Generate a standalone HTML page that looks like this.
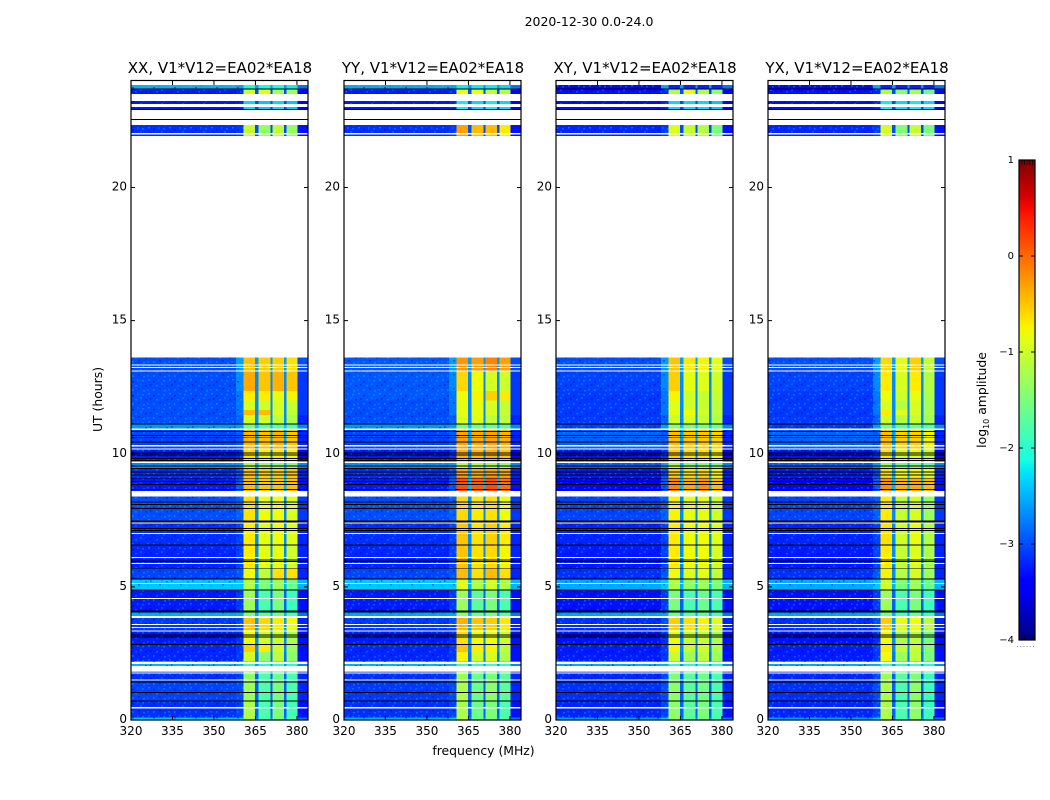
<!DOCTYPE html>
<html lang="en">
<head>
<meta charset="utf-8">
<title>2020-12-30 0.0-24.0</title>
<style>
html,body{margin:0;padding:0;background:#fff;width:1050px;height:800px;overflow:hidden}
svg{display:block}
text{font-family:"DejaVu Sans","Liberation Sans",sans-serif;fill:#000}
</style>
</head>
<body>
<svg id="figure" xmlns="http://www.w3.org/2000/svg" width="1050" height="800" viewBox="0 0 1050 800">
  <defs>
    <pattern id="grain" width="21" height="14" patternUnits="userSpaceOnUse">
      <rect x="1" y="1" width="2" height="1.5" fill="#00e0ff" opacity=".4"/>
      <rect x="6" y="3" width="2" height="1.5" fill="#000080" opacity=".45"/>
      <rect x="11" y="1" width="1.5" height="2" fill="#0090ff" opacity=".5"/>
      <rect x="16" y="2" width="2" height="1.5" fill="#00c0ff" opacity=".4"/>
      <rect x="3" y="6" width="1.5" height="2" fill="#000080" opacity=".4"/>
      <rect x="9" y="7" width="2" height="1.5" fill="#00d0ff" opacity=".35"/>
      <rect x="14" y="5" width="2" height="2" fill="#0090ff" opacity=".45"/>
      <rect x="19" y="7" width="2" height="1.5" fill="#000080" opacity=".4"/>
      <rect x="0" y="11" width="2" height="1.5" fill="#0098ff" opacity=".45"/>
      <rect x="6" y="11" width="1.5" height="2" fill="#00c8ff" opacity=".4"/>
      <rect x="12" y="10" width="2" height="1.5" fill="#000080" opacity=".4"/>
      <rect x="17" y="12" width="2" height="1.5" fill="#00d8ff" opacity=".35"/>
    </pattern>
    <linearGradient id="jet-gradient" x1="0" y1="1" x2="0" y2="0"></linearGradient>
  </defs>
  <text x="589" y="26" font-size="12.5" text-anchor="middle">2020-12-30 0.0-24.0</text>
  <text x="483.5" y="755" font-size="12.4" text-anchor="middle">frequency (MHz)</text>
  <text transform="translate(102,399.5) rotate(-90)" font-size="12.4" text-anchor="middle">UT (hours)</text>
  <g id="panels"></g>
  <g id="colorbar"></g>
  <text transform="translate(986,400) rotate(-90)" font-size="12.4" text-anchor="middle">log<tspan font-size="8" dy="3">10</tspan><tspan dy="-3"> amplitude</tspan></text>
</svg>
<script>
// ---- chart data ----
const panelTitles = ["XX, V1*V12=EA02*EA18", "YY, V1*V12=EA02*EA18", "XY, V1*V12=EA02*EA18", "YX, V1*V12=EA02*EA18"];
const xTickLabels = [320, 335, 350, 365, 380];
const yTickLabels = [0, 5, 10, 15, 20];
const colorbarTicks = [-4, -3, -2, -1, 0, 1];

// channel groups in MHz
const backgroundFreq = [320, 358];
const nearFreq = [358, 360.7];
const bandFreqs = [[360.7, 364.9], [366.1, 370.4], [371.1, 375.3], [376.2, 380.2]];
const edgeFreq = [380.2, 384];

// time blocks in UT hours
const blockStart = [0, .09, .71, 1.43, 1.8, 2.22, 2.55, 2.82, 3.38, 3.9, 4.09, 4.88, 5.29, 5.7, 6.57, 7.44, 8.61, 9.1, 9.43, 9.68, 10.18, 10.92, 11.12, 11.45, 11.65, 12.0, 12.35, 13.11, 21.94, 22.93, 23.51, 23.72];
const blockEnd = [.09, .71, 1.43, 1.8, 2.22, 2.55, 2.82, 3.38, 3.9, 4.09, 4.88, 5.29, 5.7, 6.57, 7.44, 8.39, 9.1, 9.43, 9.68, 10.18, 10.92, 11.12, 11.45, 11.65, 12.0, 12.35, 13.11, 13.62, 22.34, 23.24, 23.68, 23.85];

// log10 amplitude shared by all products per block
const nearLevels = [-2.4, -3.05, -3.0, -3.05, -2.5, -3.1, -3.1, -3.15, -3.0, -2.55, -3.1, -2.4, -2.95, -3.05, -3.05, -2.9, -2.95, -3.0, -2.6, -3.15, -2.95, -2.6, -2.9, -2.8, -2.8, -2.8, -2.7, -2.6, -3.1, -3.2, -3.2, -2.55];
const gapLevels = [-2.7, -2.9, -2.9, -2.9, -2.6, -2.8, -2.7, -2.7, -2.6, -2.5, -2.9, -2.5, -2.7, -2.7, -2.7, -2.7, -2.5, -2.5, -2.5, -2.7, -2.6, -2.4, -2.7, -2.7, -2.7, -2.7, -2.7, -2.6, -3.0, -3.0, -3.0, -2.6];
const edgeLevels = [-2.8, -3.3, -3.2, -3.2, -2.7, -3.3, -3.3, -3.3, -3.2, -2.8, -3.3, -2.5, -3.2, -3.2, -3.2, -3.1, -3.3, -3.2, -2.7, -3.35, -3.2, -2.7, -3.2, -3.1, -3.1, -3.1, -3.1, -3.0, -3.3, -3.35, -3.35, -2.8];

// per-product background level per block
const backgroundXX = [-2.4, -3.15, -3.05, -3.15, -2.5, -3.2, -3.2, -3.25, -3.1, -2.55, -3.25, -2.4, -3.05, -3.2, -3.15, -3.0, -3.25, -3.15, -2.7, -3.25, -3.05, -2.65, -3.0, -3.0, -3.0, -3.0, -3.0, -3.0, -3.15, -3.25, -3.25, -2.5];
const backgroundYY = [-2.5, -3.15, -3.1, -3.15, -2.5, -3.2, -3.2, -3.25, -3.1, -2.6, -3.25, -2.4, -3.05, -3.2, -3.15, -3.0, -3.25, -3.15, -2.7, -3.25, -3.05, -2.65, -3.0, -3.0, -3.0, -2.95, -2.95, -2.95, -3.15, -3.25, -3.25, -2.55];
const backgroundXY = [-2.6, -3.2, -3.15, -3.2, -2.55, -3.25, -3.25, -3.3, -3.15, -2.6, -3.3, -2.55, -3.15, -3.25, -3.2, -3.05, -3.35, -3.25, -2.95, -3.3, -2.9, -3.05, -3.1, -3.1, -3.1, -3.1, -3.05, -3.0, -3.2, -3.3, -3.3, -3.35];
const backgroundYX = [-2.6, -3.2, -3.15, -3.2, -2.55, -3.25, -3.25, -3.3, -3.15, -2.6, -3.3, -2.55, -3.15, -3.25, -3.2, -3.05, -3.35, -3.25, -2.95, -3.3, -2.9, -3.1, -3.1, -3.1, -3.1, -3.1, -3.05, -3.0, -3.2, -3.3, -3.3, -3.35];

// per-product level for each of the four bands per block
const bandsXX = [[-1.3,-1.8,-1.5,-1.8],[-1.2,-1.8,-1.5,-1.85],[-1.3,-1.8,-1.5,-1.8],[-1.4,-1.8,-1.6,-1.8],[-2.0,-2.1,-2.0,-2.1],[-1.0,-1.4,-1.1,-1.4],[-.55,-.7,-1.0,-1.3],[-.8,-1.0,-1.0,-1.2],[-.5,-.6,-.7,-.8],[-1.5,-1.7,-1.6,-1.8],[-1.3,-1.8,-1.5,-1.9],[-1.2,-1.5,-1.3,-1.6],[-.8,-1.1,-.65,-.65],[-.7,-.85,-.85,-1.0],[-.7,-.85,-.8,-.9],[-.65,-.8,-.8,-.9],[-.45,-.5,-.5,-.45],[-.5,-.55,-.55,-.5],[-1.2,-1.3,-1.4,-1.4],[-.65,-.75,-.7,-.75],[-.4,-.45,-.4,-.5],[-1.6,-1.7,-1.7,-1.8],[-.95,-1.0,-1.1,-1.2],[-.45,-.45,-.95,-1.1],[-.95,-1.0,-.95,-1.05],[-.7,-.7,-.85,-.75],[-.35,-.5,-.4,-.5],[-.5,-.55,-.55,-.65],[-1.05,-1.35,-1.1,-1.35],[-2.3,-2.4,-2.3,-2.4],[-1.0,-.85,-1.25,-1.3],[-2.1,-2.1,-2.1,-2.2]];
const bandsYY = [[-1.2,-1.6,-1.5,-1.7],[-1.2,-1.6,-1.5,-1.8],[-1.2,-1.6,-1.4,-1.7],[-1.3,-1.6,-1.5,-1.7],[-1.9,-2.0,-1.9,-2.0],[-.75,-1.0,-.95,-1.2],[-.5,-.7,-.75,-1.1],[-.65,-.8,-.8,-1.0],[-.4,-.5,-.55,-.7],[-1.4,-1.6,-1.5,-1.7],[-1.3,-1.7,-1.5,-1.8],[-.9,-1.2,-1.0,-1.2],[-.45,-.65,-.45,-.65],[-.5,-.65,-.6,-.75],[-.5,-.65,-.55,-.7],[-.6,-.7,-.65,-.8],[.15,.05,.15,-.05],[-.3,-.35,-.3,-.35],[-1.1,-1.2,-1.2,-1.3],[-.4,-.45,-.4,-.5],[-.3,-.35,-.3,-.4],[-1.5,-1.6,-1.6,-1.7],[-.9,-.9,-1.1,-1.1],[-.85,-.85,-.95,-1.05],[-.85,-.85,-.95,-1.05],[-.8,-.75,-.55,-.7],[-.6,-.8,-.95,-1.0],[-.25,-.3,-.15,-.3],[-.3,-.45,-.45,-.7],[-2.2,-2.3,-2.2,-2.3],[-.8,-.8,-1.1,-1.1],[-2.2,-2.2,-2.2,-2.3]];
const bandsXY = [[-1.4,-1.7,-1.5,-1.8],[-1.4,-1.7,-1.5,-1.8],[-1.4,-1.7,-1.55,-1.8],[-1.5,-1.7,-1.6,-1.8],[-2.0,-2.1,-2.0,-2.1],[-1.05,-1.3,-1.1,-1.3],[-.75,-1.05,-1.0,-1.2],[-.85,-1.05,-1.05,-1.2],[-.55,-.65,-.75,-.9],[-1.6,-1.7,-1.7,-1.8],[-1.5,-1.8,-1.6,-1.8],[-1.2,-1.4,-1.3,-1.5],[-.8,-.9,-.85,-1.1],[-.7,-.8,-.8,-.95],[-.7,-.8,-.8,-.9],[-.75,-.85,-.85,-1.0],[-.15,-.35,-.2,-.45],[-.55,-.65,-.6,-.75],[-1.2,-1.4,-1.4,-1.5],[-.55,-.65,-.65,-.75],[-.45,-.5,-.5,-.55],[-1.4,-1.5,-1.5,-1.6],[-1.0,-.95,-1.05,-1.15],[-.85,-.8,-1.0,-1.1],[-.9,-1.0,-1.05,-1.1],[-.75,-1.0,-1.05,-1.05],[-.55,-.85,-.9,-1.0],[-.5,-.7,-.75,-.85],[-.9,-1.05,-1.15,-1.5],[-2.3,-2.3,-2.3,-2.4],[-1.2,-.85,-1.2,-1.4],[-3.2,-3.2,-3.2,-3.2]];
const bandsYX = [[-1.2,-1.8,-1.4,-1.9],[-1.2,-1.8,-1.4,-1.9],[-1.2,-1.8,-1.4,-1.9],[-1.3,-1.7,-1.5,-1.9],[-2.0,-2.1,-2.0,-2.1],[-.8,-1.3,-1.1,-1.5],[-.7,-1.1,-1.05,-1.45],[-.8,-1.2,-1.1,-1.5],[-.55,-.85,-.8,-1.1],[-1.5,-1.8,-1.6,-1.9],[-1.3,-1.8,-1.5,-1.9],[-1.0,-1.5,-1.3,-1.6],[-.75,-1.15,-.95,-1.3],[-.7,-1.05,-.9,-1.2],[-.65,-1.0,-.85,-1.15],[-.7,-1.05,-.95,-1.3],[-.2,-.4,-.35,-.45],[-.65,-.8,-.75,-.85],[-1.3,-1.5,-1.5,-1.6],[-.65,-.95,-.85,-1.05],[-.45,-.55,-.55,-.75],[-1.5,-1.7,-1.6,-1.8],[-1.0,-1.15,-1.05,-1.25],[-.7,-.9,-.95,-1.2],[-.95,-1.15,-.95,-1.25],[-.8,-1.0,-.85,-1.2],[-.7,-.95,-.7,-1.15],[-.6,-.85,-.55,-1.05],[-.95,-1.45,-1.05,-1.5],[-2.2,-2.3,-2.2,-2.3],[-1.2,-1.45,-1.25,-1.6],[-3.2,-3.2,-3.2,-3.2]];

const panelBackgrounds = [backgroundXX, backgroundYY, backgroundXY, backgroundYX];
const panelBands = [bandsXX, bandsYY, bandsXY, bandsYX];

// flagged time ranges (white) and dead integrations (black), UT hours
const whiteRanges = [[.44,.48],[1.48,1.53],[1.74,1.78],[1.82,2.03],[2.1,2.17],[3.32,3.36],[3.45,3.49],[3.57,3.61],[3.83,3.9],[4.55,4.59],[5.11,5.15],[5.86,5.9],[6.09,6.13],[6.99,7.03],[7.39,7.43],[9.66,9.7],[10.16,10.2],[10.28,10.32],[10.9,10.94],[13.09,13.13],[13.22,13.26],[13.32,13.36],[22,22.04],[23.03,23.13]];
const blackLines = [.71,1.03,1.43,2.84,3.11,3.2,4.06,4.09,4.88,5.29,5.7,5.95,6.01,6.57,7.11,7.2,7.44,7.47,7.95,8.1,8.19,8.66,8.85,8.95,9.08,9.2,9.32,9.44,9.54,9.74,9.83,9.95,10.02,10.45,10.62,10.69,10.83,11.12,22.56,22.93,23.7];

// ---- layout (pixels) ----
const panelLeft = [131, 344, 556, 768];
const panelWidth = 177;
const plotTop = 81;
const plotBottom = 720;
const cbLeft = 1019, cbRight = 1035, cbTop = 160, cbBottom = 640;

const svgNS = "http://www.w3.org/2000/svg";
function make(tag, parent) {
  const el = document.createElementNS(svgNS, tag);
  parent.appendChild(el);
  return el;
}
function interp(stops, t) {
  for (let i = 1; i < stops.length; i++) {
    if (t <= stops[i][0]) {
      const a = stops[i - 1], b = stops[i];
      return a[1] + (b[1] - a[1]) * (t - a[0]) / (b[0] - a[0]);
    }
  }
  return stops[stops.length - 1][1];
}
const jetR = [[0,0],[.35,0],[.66,1],[.89,1],[1,.5]];
const jetG = [[0,0],[.125,0],[.375,1],[.64,1],[.91,0],[1,0]];
const jetB = [[0,.5],[.11,1],[.34,1],[.65,0],[1,0]];
function jet(level) {
  const t = Math.max(0, Math.min(1, (level + 4) / 5));
  const c = [jetR, jetG, jetB].map(s => Math.round(255 * interp(s, t)));
  return "rgb(" + c.join(",") + ")";
}
function yScale(h) { return plotBottom - (plotBottom - plotTop) * h / 24; }

function cell(parent, xScale, f0, f1, h0, h1, fill) {
  const r = make("rect", parent);
  r.setAttribute("x", xScale(f0).toFixed(2));
  r.setAttribute("width", (xScale(f1) - xScale(f0)).toFixed(2));
  r.setAttribute("y", yScale(h1).toFixed(2));
  r.setAttribute("height", (yScale(h0) - yScale(h1)).toFixed(2));
  r.setAttribute("fill", fill);
  r.setAttribute("shape-rendering", "crispEdges");
  return r;
}

const panelsGroup = document.getElementById("panels");
panelTitles.forEach(function (title, p) {
  const left = panelLeft[p];
  const xScale = f => left + (f - 320) * panelWidth / 64;
  const bg = panelBackgrounds[p];
  const bands = panelBands[p];

  const g = make("g", panelsGroup);
  
  

  const heat = make("g", g);
  
  

  blockStart.forEach(function (h0, i) {
    const h1 = blockEnd[i];
    const bgCell = cell(heat, xScale, backgroundFreq[0], backgroundFreq[1], h0, h1, jet(bg[i]));
    
    
    const nearCell = cell(heat, xScale, nearFreq[0], nearFreq[1], h0, h1, jet(nearLevels[i]));
    
    
    const grainCell = cell(heat, xScale, backgroundFreq[0], nearFreq[1], h0, h1, "url(#grain)");
    
    
    const gapCell = cell(heat, xScale, bandFreqs[0][1], bandFreqs[3][0], h0, h1, jet(gapLevels[i]));
    
    
    bandFreqs.forEach(function (b, k) {
      const bandCell = cell(heat, xScale, b[0], b[1], h0, h1, jet(bands[i][k]));
      
      
    });
    const edgeCell = cell(heat, xScale, edgeFreq[0], edgeFreq[1], h0, h1, jet(edgeLevels[i]));
    
    
  });

  whiteRanges.forEach(function (w) {
    const whiteLine = cell(heat, xScale, 320, 384, w[0], w[1], "#fff");
    
    
  });
  blackLines.forEach(function (h) {
    const blackLine = cell(heat, xScale, 320, 384, h - .018, h + .018, "#000");
    
    
  });

  const frame = make("rect", g);
  
  
  frame.setAttribute("x", left);
  frame.setAttribute("y", plotTop - .5);
  frame.setAttribute("width", panelWidth);
  frame.setAttribute("height", plotBottom - plotTop + .5);
  frame.setAttribute("fill", "none");
  frame.setAttribute("stroke", "#000");
  frame.setAttribute("stroke-width", "1.2");

  xTickLabels.forEach(function (v) {
    const x = xScale(v);
    [[plotBottom, plotBottom - 4], [plotTop, plotTop + 4]].forEach(function (pair) {
      const t = make("line", g);
      
      
      t.setAttribute("x1", x); t.setAttribute("x2", x);
      t.setAttribute("y1", pair[0]); t.setAttribute("y2", pair[1]);
      t.setAttribute("stroke", "#000");
    });
    const label = make("text", g);
    
    
    label.setAttribute("x", x);
    label.setAttribute("y", 735);
    label.setAttribute("font-size", "12");
    label.setAttribute("text-anchor", "middle");
    label.textContent = v;
  });
  yTickLabels.forEach(function (v) {
    const y = yScale(v);
    [[left, left + 4], [left + panelWidth, left + panelWidth - 4]].forEach(function (pair) {
      const t = make("line", g);
      
      
      t.setAttribute("x1", pair[0]); t.setAttribute("x2", pair[1]);
      t.setAttribute("y1", y); t.setAttribute("y2", y);
      t.setAttribute("stroke", "#000");
    });
    const label = make("text", g);
    
    
    label.setAttribute("x", left - 4);
    label.setAttribute("y", y + 3);
    label.setAttribute("font-size", "12");
    label.setAttribute("text-anchor", "end");
    label.textContent = v;
  });

  const titleEl = make("text", g);
  
  
  titleEl.setAttribute("x", left + panelWidth / 2 + .5);
  titleEl.setAttribute("y", 73);
  titleEl.setAttribute("font-size", "15");
  titleEl.setAttribute("text-anchor", "middle");
  titleEl.textContent = title;
});

// colorbar
const grad = document.getElementById("jet-gradient");
for (let i = 0; i <= 40; i++) {
  const s = make("stop", grad);
  s.setAttribute("offset", (i / 40).toFixed(3));
  s.setAttribute("stop-color", jet(-4 + 5 * i / 40));
}
const cb = document.getElementById("colorbar");
const cbScale = v => cbBottom - (v + 4) * (cbBottom - cbTop) / 5;
const cbBar = make("rect", cb);


cbBar.setAttribute("x", cbLeft);
cbBar.setAttribute("y", cbTop);
cbBar.setAttribute("width", cbRight - cbLeft);
cbBar.setAttribute("height", cbBottom - cbTop);
cbBar.setAttribute("fill", "url(#jet-gradient)");
cbBar.setAttribute("stroke", "#000");
cbBar.setAttribute("stroke-width", "1.2");

colorbarTicks.forEach(function (v) {
  const y = cbScale(v);
  [[cbLeft, cbLeft + 4], [cbRight, cbRight - 4]].forEach(function (pair) {
    const t = make("line", cb);
    
    
    t.setAttribute("x1", pair[0]); t.setAttribute("x2", pair[1]);
    t.setAttribute("y1", y); t.setAttribute("y2", y);
    t.setAttribute("stroke", "#000");
  });
  const label = make("text", cb);
  
  
  label.setAttribute("x", cbLeft - 5);
  label.setAttribute("y", y + 3);
  label.setAttribute("font-size", "10");
  label.setAttribute("text-anchor", "end");
  label.textContent = String(v).replace("-", "\u2212");
});
[cbTop, cbBottom - 5].forEach(function (y0) {
  for (let x = cbLeft + 3; x < cbRight - 1; x += 2.6) {
    const m = make("line", cb);
    
    
    m.setAttribute("x1", x); m.setAttribute("x2", x);
    m.setAttribute("y1", y0); m.setAttribute("y2", y0 + 5);
    m.setAttribute("stroke", "#000");
    m.setAttribute("stroke-width", ".7");
  }
});
for (let x = cbLeft - 2; x < cbRight; x += 3.2) {
  const dot = make("rect", cb);
  
  
  dot.setAttribute("x", x);
  dot.setAttribute("y", 646);
  dot.setAttribute("width", 1);
  dot.setAttribute("height", 1);
  dot.setAttribute("fill", "#888");
}
</script>
</body>
</html>
